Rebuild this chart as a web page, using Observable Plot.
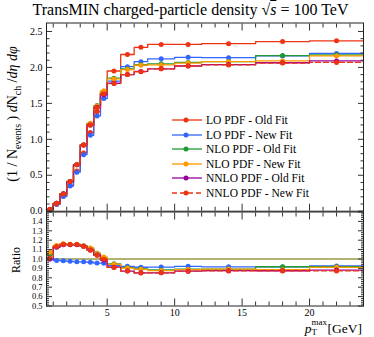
<!DOCTYPE html>
<html><head><meta charset="utf-8">
<script src="https://cdn.jsdelivr.net/npm/d3@7"></script>
<script src="https://cdn.jsdelivr.net/npm/@observablehq/plot@0.6"></script>
<style>
body{margin:0;background:#fff;}
#wrap{position:relative;width:374px;height:337px;font-family:"Liberation Serif",serif;color:#000;overflow:hidden;background:#fff}
#wrap svg{position:absolute;left:0;overflow:visible}
#title{position:absolute;top:0px;left:0;width:381px;text-align:center;font-size:16px;line-height:20px;white-space:nowrap}
#ylab{position:absolute;left:14px;top:114px;transform:translate(-50%,-50%) rotate(-90deg);white-space:nowrap;font-size:14px}
#rlab{position:absolute;left:16px;top:260px;transform:translate(-50%,-50%) rotate(-90deg);white-space:nowrap;font-size:12px}
#xlab{position:absolute;right:12px;top:321px;white-space:nowrap;font-size:13.5px;line-height:15px}
#xlab .ss{display:inline-block;position:relative;width:16px;height:10px}
#xlab .sup{position:absolute;left:0px;top:-5px;font-size:9px;line-height:9px}
#xlab .sub{position:absolute;left:0px;top:5px;font-size:9px;line-height:9px}
#legend{position:absolute;left:172px;top:113px;font-size:11.5px}
#legend .row{height:14.5px;display:flex;align-items:center;white-space:nowrap}
#legend svg{position:static;margin-right:2px}
sub,sup{font-size:70%}
</style></head><body><div id="wrap">
<div id="title">TransMIN charged-particle density <span>&radic;<i style="text-decoration:overline">s</i></span> = 100 TeV</div>
<div id="ylab">(1 / N<sub>events</sub> ) <i>d</i>N<sub>ch</sub> /<i>d&eta; d&phi;</i></div>
<div id="rlab">Ratio</div>
<div id="xlab"><i>p</i><span class="ss"><span class="sup">max</span><span class="sub">T</span></span>[GeV]</div>
<div id="legend"></div>
</div>
<script>
// bin edges (pT max, GeV)
const edges = [0.5,1,1.5,2,2.5,3,3.5,4,4.5,5,6,7,8,10,12,16,20,24];
// series values
const loOld  = [0.024,0.097,0.210,0.358,0.560,0.810,1.094,1.385,1.640,1.950,2.180,2.280,2.320,2.320,2.330,2.360,2.370];
const loNew  = [0.024,0.0955,0.206,0.349,0.543,0.786,1.056,1.325,1.568,1.810,2.010,2.080,2.120,2.140,2.135,2.160,2.195];
const nloOld = [0.0252,0.110,0.243,0.413,0.647,0.925,1.220,1.470,1.660,1.850,1.980,2.040,2.050,2.070,2.080,2.165,2.175];
const nloNew = [0.0257,0.111,0.244,0.414,0.648,0.924,1.222,1.465,1.675,1.840,1.970,2.030,2.035,2.060,2.080,2.090,2.160];
const nnloOld= [0.024,0.109,0.242,0.412,0.645,0.920,1.200,1.445,1.620,1.780,1.900,1.945,1.980,2.020,2.040,2.065,2.090];
const nnloNew= [0.0242,0.110,0.243,0.413,0.646,0.918,1.195,1.440,1.635,1.775,1.900,1.940,1.980,2.020,2.035,2.060,2.070];
const seriesNames = ["LO PDF - Old Fit","LO PDF - New Fit","NLO PDF - Old Fit","NLO PDF - New Fit","NNLO PDF - Old Fit","NNLO PDF - New Fit"];
const seriesValues = [loOld, loNew, nloOld, nloNew, nnloOld, nnloNew];
// tick values
const mainYTicks = [0,0.5,1,1.5,2,2.5];
const ratioYTicks = [0.5,0.6,0.7,0.8,0.9,1.0,1.1,1.2,1.3,1.4];
const xTickLabels = [5,10,15,20];

// styles
const colors = ["#ee3311","#3366ff","#229933","#ff9900","#990099","#ee3311"];
const dashes = [null,null,null,null,null,"5,3"];
const refColor = "#999944";
const FONT = "Liberation Serif";

const wrap = document.getElementById("wrap");
const stepRows = vals => vals.map((v,i)=>({x:edges[i], y:v})).concat([{x:edges[vals.length], y:vals[vals.length-1]}]);
const centerRows = vals => vals.map((v,i)=>({x:(edges[i]+edges[i+1])/2, y:v}));
const xDomain = [edges[0], edges[edges.length-1]];
const xMinor = d3.range(1,25).filter(d=>!xTickLabels.includes(d));

function frameAxes(yMajor, yMinor, yMajLen, yMinLen){
  const c = "#333";
  const none = ()=>"";
  const out = [];
  for (const a of ["left","right"]) {
    out.push(Plot.axisY(yMajor,{anchor:a,tickSize:-yMajLen,tickFormat:none,label:null,stroke:c}));
    out.push(Plot.axisY(yMinor,{anchor:a,tickSize:-yMinLen,tickFormat:none,label:null,stroke:c}));
  }
  for (const a of ["top","bottom"]) {
    out.push(Plot.axisX(xTickLabels,{anchor:a,tickSize:-7,tickFormat:none,label:null,stroke:c}));
    out.push(Plot.axisX(xMinor,{anchor:a,tickSize:-4,tickFormat:none,label:null,stroke:c}));
  }
  out.push(Plot.frame({stroke:"#222",strokeWidth:1}));
  return out;
}

// main panel
const mainMarks = [];
seriesValues.forEach((vals,k)=>{
  mainMarks.push(Plot.line(stepRows(vals),{x:"x",y:"y",curve:"step-after",stroke:colors[k],strokeWidth:1.3,strokeDasharray:dashes[k]}));
});
seriesValues.forEach((vals,k)=>{
  mainMarks.push(Plot.dot(centerRows(vals),{x:"x",y:"y",r:2.5,fill:colors[k],stroke:"none"}));
});
const mainYMinor = d3.range(0,26).map(d=>d/10).filter(d=>!mainYTicks.some(t=>Math.abs(t-d)<1e-9));
const main = Plot.plot({
  width:374, height:212, marginTop:22.5, marginBottom:1.3, marginLeft:46, marginRight:11,
  style:{fontFamily:FONT,fontSize:"10px",background:"none",overflow:"visible"},
  x:{domain:xDomain}, y:{domain:[0,2.618]},
  marks:[
    ...mainMarks,
    ...frameAxes(mainYTicks, mainYMinor, 6, 3.5),
    Plot.axisY(mainYTicks,{anchor:"left",tickSize:0,tickPadding:4,label:null})
  ]
});
main.style.top = "0px";
wrap.appendChild(main);

// ratio panel
const ratioMarks = [];
const ratios = seriesValues.map(vals=>vals.map((v,i)=>v/loOld[i]));
ratioMarks.push(Plot.line(stepRows(ratios[0]),{x:"x",y:"y",curve:"step-after",stroke:refColor,strokeWidth:1.3}));
ratios.forEach((vals,k)=>{
  if (k===0) return;
  ratioMarks.push(Plot.line(stepRows(vals),{x:"x",y:"y",curve:"step-after",stroke:colors[k],strokeWidth:1.3,strokeDasharray:dashes[k],clip:true}));
});
ratios.forEach((vals,k)=>{
  if (k===0) return;
  ratioMarks.push(Plot.dot(centerRows(vals),{x:"x",y:"y",r:2.5,fill:colors[k],stroke:"none",clip:true}));
});
const ratioYMajor = d3.range(5,16).map(d=>d/10);
const ratioYMinor = d3.range(25,76).map(d=>d/50).filter(d=>!ratioYMajor.some(t=>Math.abs(t-d)<1e-9));
const ratio = Plot.plot({
  width:374, height:127, marginTop:1.5, marginBottom:31.5, marginLeft:46, marginRight:11,
  style:{fontFamily:FONT,fontSize:"10px",background:"none",overflow:"visible"},
  x:{domain:xDomain}, y:{domain:[0.5,1.5]},
  marks:[
    ...ratioMarks,
    ...frameAxes(ratioYMajor, ratioYMinor, 6, 3),
    Plot.axisY(ratioYTicks,{anchor:"left",tickSize:0,tickPadding:4,tickFormat:d3.format(".1f"),label:null,fontSize:8.5}),
    Plot.axisX(xTickLabels,{anchor:"bottom",tickSize:0,tickPadding:3,label:null})
  ]
});
ratio.style.top = "210px";
wrap.appendChild(ratio);

// legend
const leg = document.getElementById("legend");
seriesNames.forEach((name,k)=>{
  const row = document.createElement("div");
  row.className = "row";
  row.innerHTML = `<svg width="32" height="10"><line x1="0" y1="5" x2="30" y2="5" stroke="${colors[k]}" stroke-width="1.3" ${dashes[k]?`stroke-dasharray="${dashes[k]}"`:""}/><circle cx="14" cy="5" r="2.5" fill="${colors[k]}"/></svg><span>${name}</span>`;
  leg.appendChild(row);
});
</script>
</body></html>
